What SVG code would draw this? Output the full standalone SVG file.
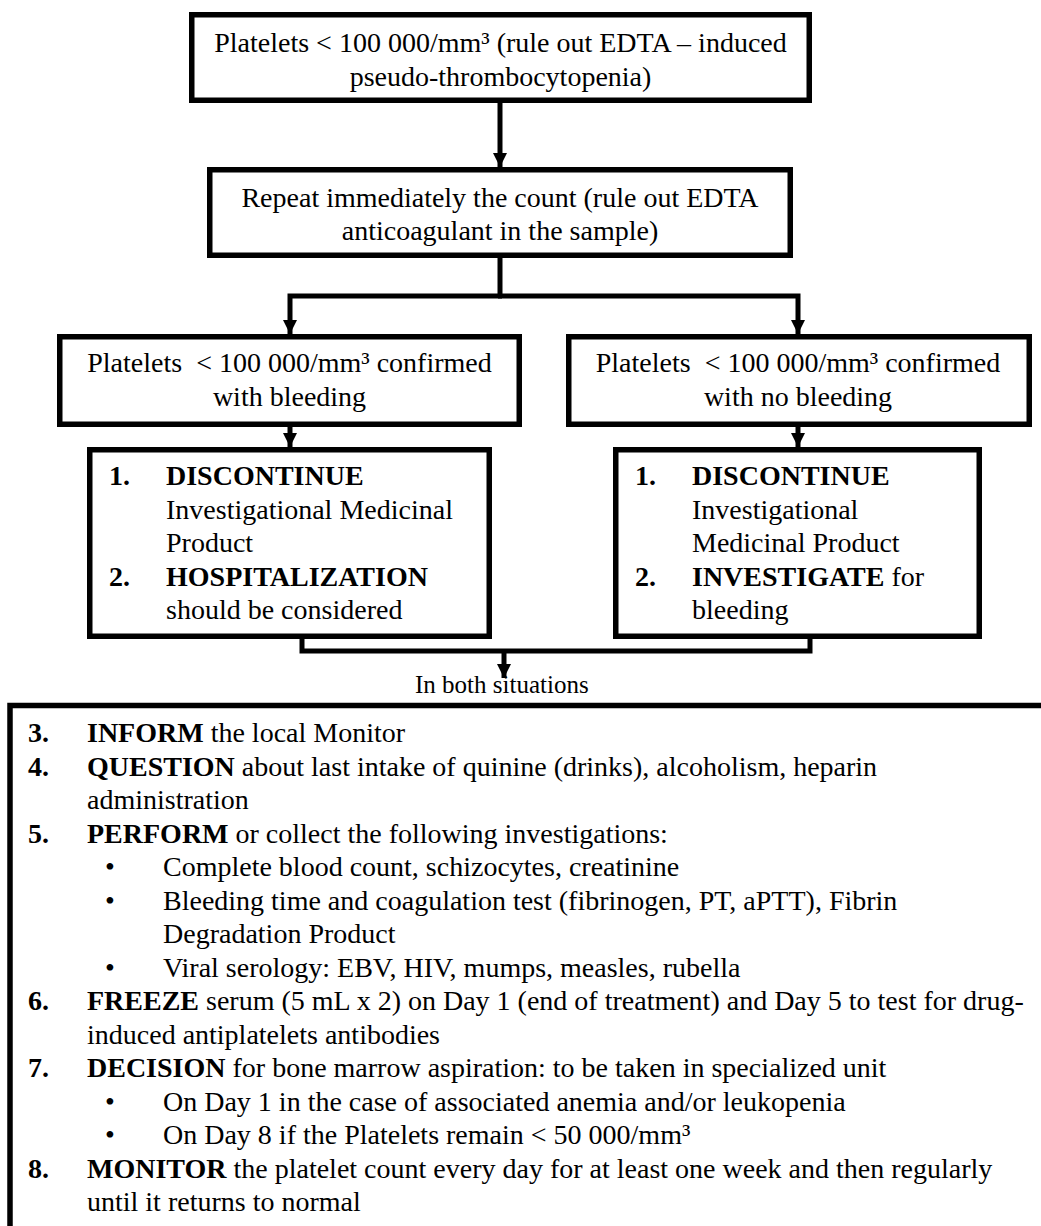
<svg xmlns="http://www.w3.org/2000/svg" width="1041" height="1226" viewBox="0 0 1041 1226">
  <style>
    text { font-family: "Liberation Serif", "Times New Roman", serif; font-size: 28px; fill: #000; }
    .c { text-anchor: middle; }
    .b { font-weight: bold; }
    .box { fill: #fff; stroke: #000; stroke-width: 5.5; }
    .wire { fill: none; stroke: #000; stroke-width: 5; }
    .small { font-size: 25px; }
  </style>
  <defs>
    <marker id="arrow" markerUnits="userSpaceOnUse" markerWidth="14" markerHeight="14" refX="14" refY="7" orient="auto">
      <path d="M0,0 L14,7 L0,14 z" fill="#000"/>
    </marker>
  </defs>
  <rect width="1041" height="1226" fill="#fff"/>

  <!-- connectors -->
  <g id="connectors">
    <path class="wire" d="M500,103 V167" marker-end="url(#arrow)"/>
    <path class="wire" d="M500,258 V296"/>
    <path class="wire" d="M502,296 H290 V334" marker-end="url(#arrow)"/>
    <path class="wire" d="M498,296 H798 V334" marker-end="url(#arrow)"/>
    <path class="wire" d="M290,427 V447" marker-end="url(#arrow)"/>
    <path class="wire" d="M798,427 V447" marker-end="url(#arrow)"/>
    <path class="wire" d="M302,625 V651 H810 V625"/>
    <path class="wire" d="M504,651 V678" marker-end="url(#arrow)"/>
    <text class="small" x="415" y="693">In both situations</text>
  </g>

  <!-- initial count -->
  <g id="n-start">
    <rect class="box" x="191.75" y="14.75" width="617.5" height="85.5"/>
    <text class="c" x="500.5" y="52">Platelets &lt; 100 000/mm³ (rule out EDTA – induced</text>
    <text class="c" x="500.5" y="86">pseudo-thrombocytopenia)</text>
  </g>

  <!-- repeat count -->
  <g id="n-repeat">
    <rect class="box" x="209.75" y="169.75" width="580.5" height="85.5"/>
    <text class="c" x="500" y="207">Repeat immediately the count (rule out EDTA</text>
    <text class="c" x="500" y="240">anticoagulant in the sample)</text>
  </g>

  <!-- confirmed with bleeding -->
  <g id="n-bleeding">
    <rect class="box" x="59.75" y="336.75" width="459.5" height="87.5"/>
    <text class="c" x="289.5" y="372" xml:space="preserve">Platelets  &lt; 100 000/mm³ confirmed</text>
    <text class="c" x="289.5" y="406">with bleeding</text>
  </g>

  <!-- confirmed with no bleeding -->
  <g id="n-nobleeding">
    <rect class="box" x="568.75" y="336.75" width="460.5" height="87.5"/>
    <text class="c" x="798" y="372" xml:space="preserve">Platelets  &lt; 100 000/mm³ confirmed</text>
    <text class="c" x="798" y="406">with no bleeding</text>
  </g>

  <!-- actions with bleeding -->
  <g id="n-actions-bleeding">
    <rect class="box" x="89.75" y="449.75" width="399.5" height="186.5"/>
    <text class="b" x="109" y="485">1.</text>
    <text class="b" x="166" y="485">DISCONTINUE</text>
    <text x="166" y="518.5">Investigational Medicinal</text>
    <text x="166" y="552">Product</text>
    <text class="b" x="109" y="585.5">2.</text>
    <text class="b" x="166" y="585.5">HOSPITALIZATION</text>
    <text x="166" y="619">should be considered</text>
  </g>

  <!-- actions without bleeding -->
  <g id="n-actions-nobleeding">
    <rect class="box" x="615.75" y="449.75" width="363.5" height="186.5"/>
    <text class="b" x="635" y="485">1.</text>
    <text class="b" x="692" y="485">DISCONTINUE</text>
    <text x="692" y="518.5">Investigational</text>
    <text x="692" y="552">Medicinal Product</text>
    <text class="b" x="635" y="585.5">2.</text>
    <text x="692" y="585.5"><tspan class="b">INVESTIGATE</tspan> for</text>
    <text x="692" y="619">bleeding</text>
  </g>

  <!-- common steps -->
  <g id="n-common">
    <rect class="box" x="10" y="705.5" width="1100" height="600"/>
    <text class="b" x="28" y="742">3.</text>
    <text x="87" y="742"><tspan class="b">INFORM</tspan> the local Monitor</text>
    <text class="b" x="28" y="775.5">4.</text>
    <text x="87" y="775.5"><tspan class="b">QUESTION</tspan> about last intake of quinine (drinks), alcoholism, heparin</text>
    <text x="87" y="809">administration</text>
    <text class="b" x="28" y="842.5">5.</text>
    <text x="87" y="842.5"><tspan class="b">PERFORM</tspan> or collect the following investigations:</text>
    <text x="105" y="876">•</text>
    <text x="163" y="876">Complete blood count, schizocytes, creatinine</text>
    <text x="105" y="909.5">•</text>
    <text x="163" y="909.5">Bleeding time and coagulation test (fibrinogen, PT, aPTT), Fibrin</text>
    <text x="163" y="943">Degradation Product</text>
    <text x="105" y="976.5">•</text>
    <text x="163" y="976.5">Viral serology: EBV, HIV, mumps, measles, rubella</text>
    <text class="b" x="28" y="1010">6.</text>
    <text x="87" y="1010"><tspan class="b">FREEZE</tspan> serum (5 mL x 2) on Day 1 (end of treatment) and Day 5 to test for drug-</text>
    <text x="87" y="1043.5">induced antiplatelets antibodies</text>
    <text class="b" x="28" y="1077">7.</text>
    <text x="87" y="1077"><tspan class="b">DECISION</tspan> for bone marrow aspiration: to be taken in specialized unit</text>
    <text x="105" y="1110.5">•</text>
    <text x="163" y="1110.5">On Day 1 in the case of associated anemia and/or leukopenia</text>
    <text x="105" y="1144">•</text>
    <text x="163" y="1144">On Day 8 if the Platelets remain &lt; 50 000/mm³</text>
    <text class="b" x="28" y="1177.5">8.</text>
    <text x="87" y="1177.5"><tspan class="b">MONITOR</tspan> the platelet count every day for at least one week and then regularly</text>
    <text x="87" y="1211">until it returns to normal</text>
  </g>
</svg>
